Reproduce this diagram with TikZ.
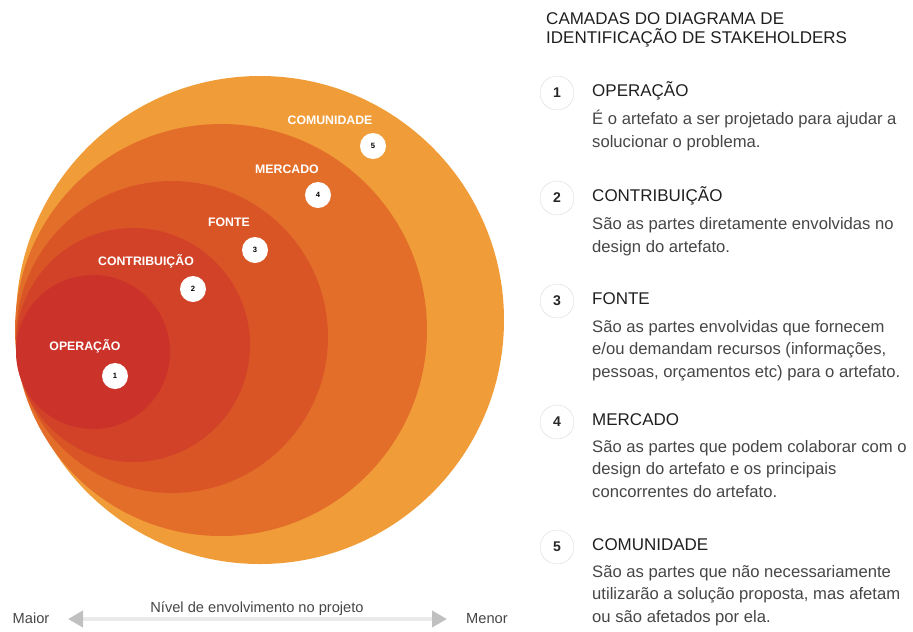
\documentclass[tikz,border=0pt]{standalone}
\usepackage{fontspec}
\setmainfont{Liberation Sans}
\usetikzlibrary{arrows.meta,shapes,positioning}
\definecolor{camada1}{RGB}{203,50,42}
\definecolor{camada2}{RGB}{210,66,40}
\definecolor{camada3}{RGB}{217,85,38}
\definecolor{camada4}{RGB}{227,110,42}
\definecolor{camada5}{RGB}{240,156,56}
\definecolor{texto}{RGB}{70,70,70}
\definecolor{setacinza}{RGB}{192,192,192}
\definecolor{linhacinza}{RGB}{234,234,234}
\tikzstyle{camada}=[circle,inner sep=0pt,draw=none]
\tikzstyle{badge}=[circle,fill=white,minimum size=0.78cm,inner sep=0pt,font=\fontsize{6.5}{7}\selectfont\bfseries]
\tikzstyle{rotulo}=[font=\fontsize{10.5}{12}\selectfont\bfseries,text=white]
\tikzstyle{numero}=[circle,draw=black!13,fill=white,minimum size=1.02cm,inner sep=0pt,font=\fontsize{12}{13}\selectfont\bfseries,text=black!85]
\tikzstyle{titulo}=[font=\fontsize{14.5}{15.4}\selectfont,text=black!88,anchor=base west,inner sep=0pt,align=left]
\tikzstyle{descricao}=[font=\fontsize{14.2}{18.8}\selectfont,text=texto,anchor=base west,inner sep=0pt,align=left]
\tikzstyle{rodape}=[font=\fontsize{12.5}{14}\selectfont,text=texto,anchor=base,inner sep=0pt]
\tikzstyle{seta}=[draw=linhacinza,line width=3.4pt,{Triangle[length=0.45cm,width=0.48cm,color=setacinza]}-{Triangle[length=0.45cm,width=0.48cm,color=setacinza]}]

\begin{document}
\begin{tikzpicture}[x=0.03cm,y=-0.03cm]
    \useasboundingbox (0,0) rectangle (913,631);
    % camadas, da maior para a menor
    \foreach \pos/\r/\cor/\name in {{(260,320)/244/camada5/c5}, {(221,330)/206/camada4/c4}, {(172,337)/156/camada3/c3}, {(133,345)/117/camada2/c2}, {(93,352)/77/camada1/c1}}
        \node[camada, fill=\cor, minimum size=\r*0.06cm] (\name) at \pos {};
    \foreach \pos/\num/\nome in {{(85,346)/1/OPERAÇÃO}, {(146,261)/2/CONTRIBUIÇÃO}, {(229,222)/3/FONTE}, {(287,169)/4/MERCADO}, {(330,120)/5/COMUNIDADE}}
        \node[rotulo] (r\num) at \pos {\nome};
    \foreach \pos/\num in {{(115,376)/1}, {(193,289)/2}, {(255,250)/3}, {(318,195)/4}, {(373,146)/5}}
        \node[badge] (b\num) at \pos {\num};

    % legenda (base = ultima linha)
    \node[titulo] (cabecalho) at (546,43) {CAMADAS DO DIAGRAMA DE\\IDENTIFICAÇÃO DE STAKEHOLDERS};
    \foreach \y/\num/\nome in {93/1/OPERAÇÃO, 198/2/CONTRIBUIÇÃO, 301/3/FONTE, 422/4/MERCADO, 547/5/COMUNIDADE} {
        \node[numero] (n\num) at (557,\y) {\num};
        \node[titulo] (t\num) at (592,\y+3.5) {\nome};
    }
    \node[descricao] (d1) at (592,147) {É o artefato a ser projetado para ajudar a\\solucionar o problema.};
    \node[descricao] (d2) at (592,252) {São as partes diretamente envolvidas no\\design do artefato.};
    \node[descricao] (d3) at (592,377) {São as partes envolvidas que fornecem\\e/ou demandam recursos (informações,\\pessoas, orçamentos etc) para o artefato.};
    \node[descricao] (d4) at (592,497) {São as partes que podem colaborar com o\\design do artefato e os principais\\concorrentes do artefato.};
    \node[descricao] (d5) at (592,622) {São as partes que não necessariamente\\utilizarão a solução proposta, mas afetam\\ou são afetados por ela.};

    % eixo
    \node[rodape] (maior) at (31,623) {Maior};
    \node[rodape] (menor) at (487,623) {Menor};
    \node[rodape] (nivel) at (257,612) {Nível de envolvimento no projeto};
    \coordinate (setaE) at (68,619);
    \coordinate (setaD) at (447,619);
    \path[seta] (setaE) -- (setaD);
\end{tikzpicture}
\end{document}
